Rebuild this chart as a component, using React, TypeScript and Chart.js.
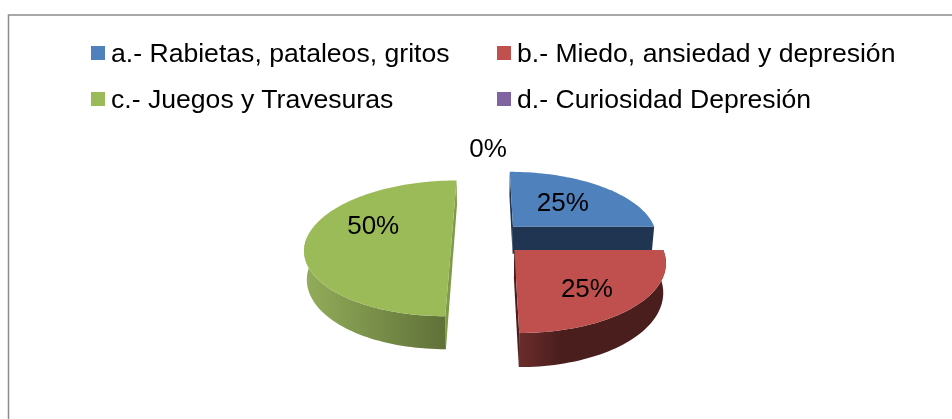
import React, { useEffect, useRef } from "react";
import { Chart, registerables } from "chart.js";

Chart.register(...registerables);

const categories = [
  "a.- Rabietas, pataleos, gritos",
  "b.- Miedo, ansiedad y depresión",
  "c.- Juegos y Travesuras",
  "d.- Curiosidad Depresión",
];
const shares = [25, 25, 50, 0];
const topColors = ["#4f81bd", "#c0504d", "#9bbb59", "#8064a2"];
const flatColors = ["#1f3552", "#4a1e1e", "#7f9b48", "#4d3b62"];
const rimFrom = ["#1f3552", "#6e2e2c", "#92ad5a", "#4d3b62"];
const rimTo = ["#1f3552", "#4b1e1e", "#5c6c36", "#4d3b62"];
const labelNudge: [number, number][] = [[-5, 2], [3, 8], [0, 2], [0, -9]];

const FONT = '"Liberation Sans", Arial, sans-serif';
const LABEL_SIZE = 26;
const LEGEND_SIZE = 26.6;
const TILT_X = 145 / 160;
const TILT_Y = 66.3 / 160;
const PERSPECTIVE = 0.152;
const DEPTH = 28;
const LOWER_SCALE = 0.985;
const DRAW_ORDER = [3, 0, 2, 1];

type Pt = [number, number];

function project(cx: number, cy: number, R: number, u: number, v: number): Pt {
  const w = 1 - PERSPECTIVE * v;
  return [cx + (R * TILT_X * u) / w, cy + (R * TILT_Y * v) / w];
}

const pie3dPlugin = {
  id: "pie3d",
  beforeDraw(chart: any) {
    const { ctx, width, height } = chart;
    ctx.save();
    ctx.strokeStyle = "#8c8c8c";
    ctx.lineWidth = 1.5;
    ctx.beginPath();
    ctx.moveTo(8.5, height + 2);
    ctx.lineTo(8.5, 15);
    ctx.lineTo(width + 2, 15);
    ctx.stroke();
    ctx.restore();
  },
  beforeDatasetDraw(chart: any, args: any) {
    const { ctx } = chart;
    const meta = args.meta;
    const total = shares.reduce((a, b) => a + b, 0);

    const slice = (arc: any) => {
      const R = arc.outerRadius;
      const off = arc.options.offset / R;
      const mid = (arc.startAngle + arc.endAngle) / 2;
      const ou = off * Math.cos(mid);
      const ov = off * Math.sin(mid);
      const uv: Pt[] = [[ou, ov]];
      const sinT: number[] = [0];
      const n = Math.max(2, Math.ceil((arc.endAngle - arc.startAngle) / 0.03));
      for (let i = 0; i <= n; i++) {
        const t = arc.startAngle + ((arc.endAngle - arc.startAngle) * i) / n;
        uv.push([ou + Math.cos(t), ov + Math.sin(t)]);
        sinT.push(Math.sin(t));
      }
      return { R, uv, ou, ov, mid, sinT };
    };

    DRAW_ORDER.forEach((i) => {
      const arc = meta.data[i];
      if (!arc || arc.endAngle - arc.startAngle < 1e-4) return;
      const { R, uv, sinT } = slice(arc);
      const top = uv.map(([u, v]) => project(arc.x, arc.y, R, u, v));
      const low = uv.map(([u, v], k) => {
        const w = 1 - PERSPECTIVE * v;
        return [
          arc.x + (top[k][0] - arc.x) * LOWER_SCALE,
          top[k][1] + DEPTH / w,
        ] as Pt;
      });
      const xs = top.map((p) => p[0]);
      const grad = ctx.createLinearGradient(Math.min(...xs), 0, Math.max(...xs), 0);
      grad.addColorStop(0, rimFrom[i]);
      grad.addColorStop(i === 1 ? 0.3 : 1, rimTo[i]);
      grad.addColorStop(1, rimTo[i]);

      const quad = (a: number, b: number, fill: any) => {
        ctx.fillStyle = fill;
        ctx.beginPath();
        ctx.moveTo(top[a][0], top[a][1]);
        ctx.lineTo(top[b][0], top[b][1]);
        ctx.lineTo(low[b][0], low[b][1]);
        ctx.lineTo(low[a][0], low[a][1]);
        ctx.closePath();
        ctx.fill();
      };
      const last = uv.length - 1;
      quad(0, 1, flatColors[i]);
      quad(last, 0, flatColors[i]);

      // the visible, front-facing part of the rim as one polygon
      const front: number[] = [];
      for (let k = 1; k <= last; k++) if (sinT[k] > -0.02) front.push(k);
      if (front.length > 1) {
        ctx.fillStyle = grad;
        ctx.beginPath();
        front.forEach((k, j) => (j ? ctx.lineTo(top[k][0], top[k][1]) : ctx.moveTo(top[k][0], top[k][1])));
        [...front].reverse().forEach((k) => ctx.lineTo(low[k][0], low[k][1]));
        ctx.closePath();
        ctx.fill();
      }

      ctx.fillStyle = topColors[i];
      ctx.beginPath();
      top.forEach((p, k) => (k ? ctx.lineTo(p[0], p[1]) : ctx.moveTo(p[0], p[1])));
      ctx.closePath();
      ctx.fill();
    });

    ctx.save();
    ctx.fillStyle = "#000";
    ctx.font = `${LABEL_SIZE}px ${FONT}`;
    ctx.textAlign = "center";
    ctx.textBaseline = "middle";
    meta.data.forEach((arc: any, i: number) => {
      const { R, ou, ov, mid } = slice(arc);
      const empty = arc.endAngle - arc.startAngle < 1e-4;
      const r = empty ? 1.45 : 0.6;
      const a = i === 2 ? mid + 0.34 : empty ? -Math.PI / 2 : mid;
      const p = project(arc.x, arc.y, R, ou * (empty ? 0 : 1) + r * Math.cos(a), ov * (empty ? 0 : 1) + r * Math.sin(a));
      const text = `${Math.round((shares[i] / total) * 100)}%`;
      ctx.fillText(text, p[0] + labelNudge[i][0], p[1] + labelNudge[i][1]);
    });
    ctx.restore();
    return false;
  },
};

export default function App() {
  const ref = useRef<HTMLCanvasElement>(null);
  useEffect(() => {
    document.body.style.margin = "0";
    document.body.style.overflow = "hidden";
    const chart = new Chart(ref.current!, {
      type: "pie",
      data: {
        labels: categories,
        datasets: [{ data: shares, backgroundColor: topColors, borderWidth: 0, offset: 40 }],
      },
      options: {
        responsive: false,
        animation: false,
        radius: 160,
        layout: { padding: { left: 24, top: 57 } },
        plugins: { legend: { display: false }, tooltip: { enabled: false } },
      } as any,
      plugins: [pie3dPlugin as any],
    });
    return () => chart.destroy();
  }, []);

  const cols = [91, 497];
  const rows = [46, 92];
  return (
    <div style={{ position: "relative", width: 952, height: 419, overflow: "hidden", background: "#fff" }}>
      <canvas ref={ref} width={952} height={419} style={{ display: "block" }} />
      {categories.map((c, i) => (
        <div
          key={c}
          style={{
            position: "absolute",
            left: cols[i % 2],
            top: rows[Math.floor(i / 2)],
            display: "flex",
            alignItems: "center",
            height: 14,
            whiteSpace: "nowrap",
            font: `${LEGEND_SIZE}px ${FONT}`,
            color: "#000",
          }}
        >
          <span style={{ width: 14, height: 14, background: topColors[i], marginRight: 6, flex: "none" }} />
          <span>{c}</span>
        </div>
      ))}
    </div>
  );
}
